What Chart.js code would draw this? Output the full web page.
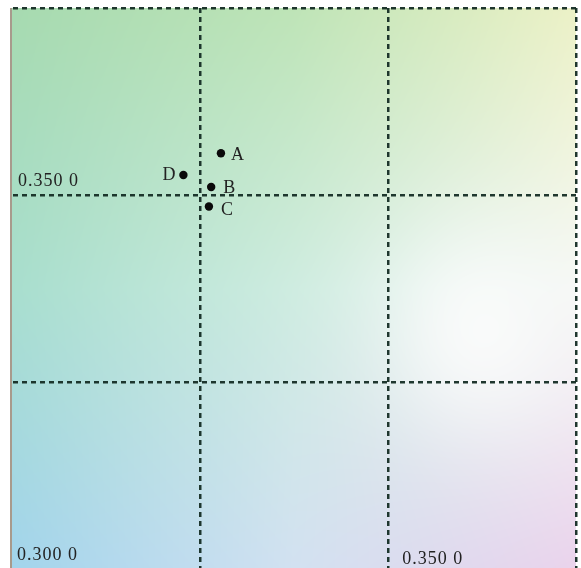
<!DOCTYPE html>
<html>
<head>
<meta charset="utf-8">
<script src="https://cdn.jsdelivr.net/npm/chart.js@4"></script>
<style>
html,body{margin:0;padding:0;background:#fff;}
#wrap{width:581px;height:568px;overflow:hidden;position:relative;}
canvas{display:block;}
</style>
</head>
<body>
<div id="wrap"><canvas id="c" width="581" height="574"></canvas></div>
<script>
// Data
const pointLabels = ['A', 'B', 'C', 'D'];
const xValues = [0.3277, 0.3264, 0.3261, 0.3227];
const yValues = [0.3556, 0.3511, 0.3485, 0.3527];
const xTicks = [0.325, 0.35, 0.375];
const yTicks = [0.325, 0.35, 0.375];
const axisTexts = [
  { text: '0.350 0', axis: 'y', value: 0.35 },
  { text: '0.300 0', axis: 'xy', value: 0.30 },
  { text: '0.350 0', axis: 'x', value: 0.35 }
];

const bgPlugin = {
  id: 'bg',
  beforeDraw(chart) {
    const { ctx, chartArea: a } = chart;
    const x0 = Math.round(a.left) - 2, x1 = Math.round(a.right);
    const y0 = Math.round(a.top), y1 = Math.min(Math.round(a.bottom), chart.height);
    const w = x1 - x0, h = y1 - y0;
    const img = ctx.createImageData(w, h);
    const C = [
      [[166,218,176],[190,228,183],[236,241,199]],
      [[168,222,206],[206,236,224],[244,247,244]],
      [[162,212,236],[210,225,241],[234,211,236]]
    ];
    function lerp(a,b,t){return a+(b-a)*t;}
    for (let j = 0; j < h; j++) {
      const v = j / (h - 1) * 2;
      const r = Math.min(1, Math.floor(v)), tv = v - r;
      for (let i = 0; i < w; i++) {
        const u = i / (w - 1) * 2;
        const c = Math.min(1, Math.floor(u)), tu = u - c;
        const k = (j * w + i) * 4;
        const dx = (i + x0 - 480) / 95, dy = (j + y0 - 330) / 105;
        const wb = Math.exp(-(dx*dx + dy*dy)) * 0.85;
        for (let ch = 0; ch < 3; ch++) {
          const top = lerp(C[r][c][ch], C[r][c+1][ch], tu);
          const bot = lerp(C[r+1][c][ch], C[r+1][c+1][ch], tu);
          let val = lerp(top, bot, tv);
          val = lerp(val, 252, wb);
          img.data[k+ch] = val;
        }
        img.data[k+3] = 255;
      }
    }
    ctx.putImageData(img, x0, y0);
    ctx.save();
    ctx.fillStyle = '#a89a8c';
    ctx.fillRect(x0 - 1, y0, 2, h);
    ctx.restore();
  },
  afterDatasetsDraw(chart) {
    const { ctx, scales: { x, y } } = chart;
    ctx.save();
    ctx.fillStyle = '#222';
    ctx.font = '18px "Liberation Serif", "Times New Roman", serif';
    ctx.textBaseline = 'alphabetic';
    ctx.letterSpacing = '1px';
    const left = x.left;
    ctx.fillText(axisTexts[0].text, left + 5, y.getPixelForValue(axisTexts[0].value) - 9);
    ctx.fillText(axisTexts[1].text, left + 4, y.getPixelForValue(axisTexts[1].value) - 10);
    ctx.fillText(axisTexts[2].text, x.getPixelForValue(axisTexts[2].value) + 14, y.getPixelForValue(0.30) - 6);
    ctx.letterSpacing = '0px';
    ctx.textBaseline = 'middle';
    const offs = { A: [10, 2, 'left'], B: [12, 1, 'left'], C: [12, 4, 'left'], D: [-8, 0, 'right'] };
    pointLabels.forEach((lab, i) => {
      const px = x.getPixelForValue(xValues[i]), py = y.getPixelForValue(yValues[i]);
      const o = offs[lab];
      ctx.textAlign = o[2];
      ctx.fillText(lab, px + o[0], py + o[1]);
    });
    ctx.restore();
  }
};

const gridOpts = () => ({
  display: true,
  drawTicks: false,
  color: 'rgba(20,44,36,0.95)',
  lineWidth: 2.5
});

new Chart(document.getElementById('c'), {
  type: 'scatter',
  data: {
    datasets: [{
      data: xValues.map((v, i) => ({ x: v, y: yValues[i] })),
      backgroundColor: '#0a0a0a',
      borderColor: '#0a0a0a',
      pointRadius: 4.2,
      pointHoverRadius: 4.2,
      borderWidth: 0
    }]
  },
  options: {
    responsive: false,
    animation: false,
    devicePixelRatio: 1,
    events: [],
    layout: { padding: { left: 13, right: 5, top: 8, bottom: 0 } },
    plugins: { legend: { display: false }, tooltip: { enabled: false } },
    scales: {
      x: {
        type: 'linear', min: 0.30, max: 0.375,
        afterBuildTicks: s => { s.ticks = xTicks.map(v => ({ value: v })); },
        ticks: { display: false },
        grid: gridOpts(),
        border: { display: false, dash: [5, 4] }
      },
      y: {
        type: 'linear', min: 0.30, max: 0.375,
        afterBuildTicks: s => { s.ticks = yTicks.map(v => ({ value: v })); },
        ticks: { display: false },
        grid: gridOpts(),
        border: { display: false, dash: [5, 4] }
      }
    }
  },
  plugins: [bgPlugin]
});
</script>
</body>
</html>
